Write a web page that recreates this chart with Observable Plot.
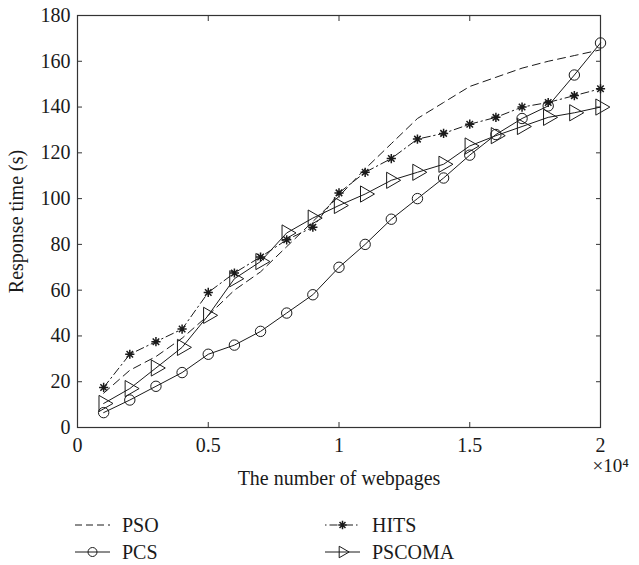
<!DOCTYPE html>
<html><head><meta charset="utf-8">
<script src="https://cdn.jsdelivr.net/npm/d3@7"></script>
<script src="https://cdn.jsdelivr.net/npm/@observablehq/plot@0.6"></script>
<style>
body{margin:0;background:#fff;}
#chart{position:relative;width:639px;height:565px;font-family:"Liberation Serif",serif;color:#222;}
#legend{position:absolute;left:0;top:492px;}
</style></head><body><div id="chart"></div>
<script>
const webpages = [1000,2000,3000,4000,5000,6000,7000,8000,9000,10000,11000,12000,13000,14000,15000,16000,17000,18000,19000,20000];
const pso    = [15,25,31,39,49,60,68,79,90,101,113,124,135,142,149,153,157,160,162.5,165];
const pcs    = [6.5,12,18,24,32,36,42,50,58,70,80,91,100,109,119,128,135,140.5,154,168];
const hits   = [17.5,32,37.5,43,59,67.5,74.5,82,87.5,102.5,111.5,117.5,126,128.5,132.5,135.5,140,142,145,148];
const pscoma = [10.5,17,26,35,49,65,72.5,85,91.5,97,102,108,111.5,115,123,127.5,131.5,135.5,137.5,140];
const seriesNames = ["PSO","PCS","HITS","PSCOMA"];
const xTicks = [0,5000,10000,15000,20000];
const xTickLabels = ["0","0.5","1","1.5","2"];
const yTicks = [0,20,40,60,80,100,120,140,160,180];

const ink = "#1a1a1a";
const fontFamily = "'Liberation Serif', 'Times New Roman', serif";
const rows = (vals, name) => webpages.map((x, i) => ({x, y: vals[i], series: name}));
const psoRows = rows(pso, seriesNames[0]);
const pcsRows = rows(pcs, seriesNames[1]);
const hitsRows = rows(hits, seriesNames[2]);
const pscomaRows = rows(pscoma, seriesNames[3]);

// 8-armed MATLAB-like asterisk
const star8 = {draw(ctx, size) {
  const r = Math.sqrt(size / Math.PI);
  const d = r * Math.SQRT1_2;
  ctx.moveTo(-r, 0); ctx.lineTo(r, 0);
  ctx.moveTo(0, -r); ctx.lineTo(0, r);
  ctx.moveTo(-d, -d); ctx.lineTo(d, d);
  ctx.moveTo(-d, d); ctx.lineTo(d, -d);
}};

const chart = Plot.plot({
  width: 639,
  height: 492,
  marginLeft: 77,
  marginRight: 39,
  marginTop: 15,
  marginBottom: 65,
  style: {fontFamily, fontSize: "20px", color: ink, background: "#fff"},
  x: {domain: [0, 20000]},
  y: {domain: [0, 180]},
  marks: [
    Plot.axisX({anchor: "bottom", ticks: xTicks, tickSize: -5, tickPadding: 15, stroke: "#333",
      tickFormat: d => xTickLabels[xTicks.indexOf(d)],
      label: "The number of webpages", labelAnchor: "center", labelOffset: 57, labelArrow: "none"}),
    Plot.axisX({anchor: "top", ticks: xTicks, tickSize: -5, stroke: "#333", tickFormat: () => "", label: null}),
    Plot.axisY({anchor: "left", ticks: yTicks, tickSize: -5, tickPadding: 12, stroke: "#333",
      label: "Response time (s)", labelAnchor: "center", labelOffset: 69, labelArrow: "none"}),
    Plot.axisY({anchor: "right", ticks: yTicks, tickSize: -5, stroke: "#333", tickFormat: () => "", label: null}),
    Plot.frame({stroke: "#333", strokeWidth: 1.2}),
    Plot.line(psoRows, {x: "x", y: "y", stroke: ink, strokeWidth: 1, strokeDasharray: "8,5"}),
    Plot.line(hitsRows, {x: "x", y: "y", stroke: ink, strokeWidth: 1, strokeDasharray: "8,3.5,1.5,3.5"}),
    Plot.line(pscomaRows, {x: "x", y: "y", stroke: ink, strokeWidth: 1}),
    Plot.line(pcsRows, {x: "x", y: "y", stroke: ink, strokeWidth: 1}),
    Plot.dot(hitsRows, {x: "x", y: "y", symbol: star8, r: 4.6, stroke: ink, strokeWidth: 1.5, fill: "none"}),
    Plot.dot(pscomaRows, {x: "x", y: "y", symbol: "triangle", r: 6, rotate: 90, stroke: ink, strokeWidth: 1, fill: "none"}),
    Plot.dot(pcsRows, {x: "x", y: "y", symbol: "circle", r: 5.2, stroke: ink, strokeWidth: 1, fill: "none"}),
    Plot.text(["×10⁴"], {frameAnchor: "bottom-right", textAnchor: "start", dx: -8, dy: 44, fill: ink, fontSize: 19})
  ]
});
const root = document.getElementById("chart");
root.appendChild(chart);

// Legend (HTML/SVG below the plot)
const ns = "http://www.w3.org/2000/svg";
const lg = document.createElementNS(ns, "svg");
lg.setAttribute("id", "legend");
lg.setAttribute("width", 639);
lg.setAttribute("height", 73);
const items = [
  {name: seriesNames[0], x0: 75, y: 33, dash: "7,4", sym: null},
  {name: seriesNames[1], x0: 75, y: 60, dash: null, sym: "circle"},
  {name: seriesNames[2], x0: 325, y: 33, dash: "1.5,3,8,3", sym: "star"},
  {name: seriesNames[3], x0: 325, y: 60, dash: null, sym: "tri"}
];
for (const it of items) {
  const g = document.createElementNS(ns, "g");
  const ln = document.createElementNS(ns, "line");
  ln.setAttribute("x1", it.x0); ln.setAttribute("x2", it.x0 + 35);
  ln.setAttribute("y1", it.y); ln.setAttribute("y2", it.y);
  ln.setAttribute("stroke", ink); ln.setAttribute("stroke-width", 1);
  if (it.dash) ln.setAttribute("stroke-dasharray", it.dash);
  g.appendChild(ln);
  const cx = it.x0 + 17.5;
  if (it.sym) {
    const p = document.createElementNS(ns, "path");
    let d;
    if (it.sym === "circle") d = d3.symbol(d3.symbolCircle, Math.PI * 4.5 * 4.5)();
    else if (it.sym === "star") d = d3.symbol(star8, Math.PI * 4.2 * 4.2)();
    else d = d3.symbol(d3.symbolTriangle2, Math.PI * 5.5 * 5.5)();
    p.setAttribute("d", d);
    p.setAttribute("transform", `translate(${cx},${it.y})` + (it.sym === "tri" ? " rotate(90)" : ""));
    p.setAttribute("fill", "none"); p.setAttribute("stroke", ink);
    p.setAttribute("stroke-width", it.sym === "star" ? 1.5 : 1);
    g.appendChild(p);
  }
  const t = document.createElementNS(ns, "text");
  t.setAttribute("x", it.x0 + 47); t.setAttribute("y", it.y);
  t.setAttribute("dy", "0.35em");
  t.setAttribute("font-family", fontFamily);
  t.setAttribute("font-size", 20); t.setAttribute("fill", ink);
  t.textContent = it.name;
  g.appendChild(t);
  lg.appendChild(g);
}
root.appendChild(lg);
</script></body></html>
